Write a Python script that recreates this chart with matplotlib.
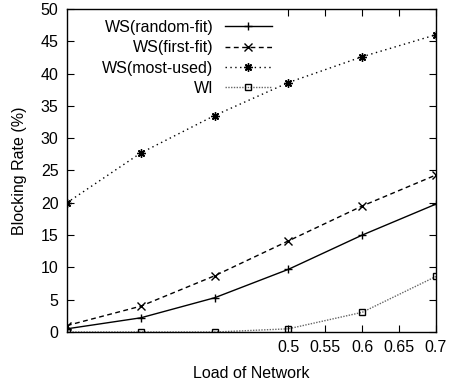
import matplotlib
matplotlib.use("Agg")
import matplotlib.pyplot as plt

load = [0.2, 0.3, 0.4, 0.5, 0.6, 0.7]
random_fit = [0.5, 2.2, 5.3, 9.7, 15.0, 19.8]
first_fit = [1.0, 4.0, 8.7, 14.1, 19.5, 24.3]
most_used = [20.0, 27.7, 33.5, 38.6, 42.6, 46.0]
wi = [0.0, 0.0, 0.0, 0.5, 3.05, 8.6]
labels = ["WS(random-fit)", "WS(first-fit)", "WS(most-used)", "WI"]
xticks = [0.5, 0.55, 0.6, 0.65, 0.7]
yticks = [0, 5, 10, 15, 20, 25, 30, 35, 40, 45, 50]

FS = 11.5
plt.rcParams['font.family'] = ['Liberation Sans', 'DejaVu Sans']
plt.rcParams['font.size'] = FS

fig = plt.figure(figsize=(4.49, 3.87), dpi=100)
ax = fig.add_axes([0.149, 0.142, 0.822, 0.835])

ax.plot(load, random_fit, color='black', lw=1.0, ls='-', marker='+', ms=6, mew=1.0, label=labels[0])
ax.plot(load, first_fit, color='black', lw=1.0, ls=(0, (3.5, 2.5)), marker='x', ms=5.5, mew=1.0, label=labels[1])
ax.plot(load, most_used, color='black', lw=1.0, ls=(0, (1, 2.5)), marker=(8, 2, 0), ms=6, mew=1.0, label=labels[2])
ax.plot(load, wi, color='#666666', lw=1.0, ls=(0, (1, 1)), marker='s', ms=5, mew=1.0,
        mfc='none', mec='black', label=labels[3])

ax.set_xlim(0.2, 0.7)
ax.set_ylim(0, 50)
ax.set_xticks(xticks)
ax.set_xticklabels(["0.5", "0.55", "0.6", "0.65", "0.7"])
ax.set_yticks(yticks)
ax.tick_params(direction='in', top=True, right=True, length=5, width=0.8, labelsize=FS, pad=6)
for s in ax.spines.values():
    s.set_linewidth(1.0)

ax.set_xlabel("Load of Network", fontsize=FS, labelpad=8)
ax.set_ylabel("Blocking Rate (%)", fontsize=FS, labelpad=10)

ax.legend(loc='upper right', bbox_to_anchor=(0.585, 1.0), frameon=False, markerfirst=False,
          numpoints=1, handlelength=2.95, handletextpad=0.7, labelspacing=0.33, borderaxespad=0.3,
          fontsize=FS)

fig.savefig("out.png", dpi=100)
